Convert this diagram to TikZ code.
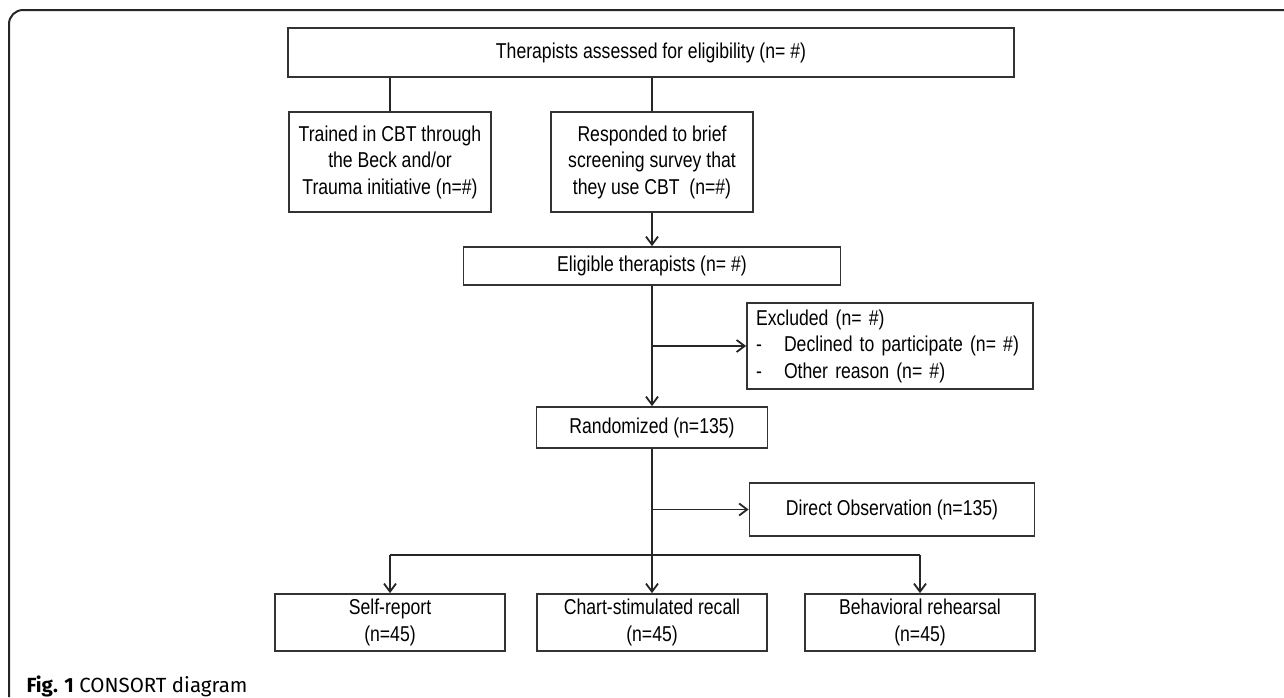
\documentclass[tikz,border=0pt]{standalone}
\usepackage{fontspec}
\setmainfont[FakeStretch=0.82]{Liberation Sans}
\newfontfamily\capfont{Fira Sans}
\usepackage{tikz}
\usetikzlibrary{arrows.meta}

\tikzset{
	box/.style={draw=black!80, line width=1.8pt, inner sep=0pt, align=center,
		font=\fontsize{21.5}{26.5}\selectfont},
	link/.style={draw=black!85, line width=1.8pt},
	>={Straight Barb[length=8pt,width=12pt]}
}

\begin{document}
\begin{tikzpicture}[x=1pt,y=-1pt]

		%%Location
		\useasboundingbox (0,0) rectangle (1284,697);
		\draw[line width=2pt, black!85, rounded corners=14pt] (9,697) -- (9,10) -- (1284,10);

		%%Screening
		\node[box, minimum width=726pt, minimum height=49pt] (assessed) at (651,52.5) {Therapists assessed for eligibility (n= \#)};
		\node[box, minimum width=202pt, minimum height=100pt] (trained) at (390,162) {Trained in CBT through\\the Beck and/or\\Trauma initiative (n=\#)};
		\node[box, minimum width=202pt, minimum height=100pt] (responded) at (652,162) {Responded to brief\\screening survey that\\they use CBT~~(n=\#)};
		\node[box, minimum width=377pt, minimum height=38pt] (eligible) at (652,266) {Eligible therapists (n= \#)};
		\node[box, minimum width=286pt, minimum height=86pt, text width=268pt, align=left] (excluded) at (890,346) {Excluded (n= \#)\\\makebox[28pt][l]{-}Declined to participate (n= \#)\\\makebox[28pt][l]{-}Other reason (n= \#)};

		%%Randomization
		\node[box, minimum width=231pt, minimum height=41pt] (randomized) at (652,427.5) {Randomized (n=135)};
		\node[box, minimum width=285pt, minimum height=53pt] (direct) at (892,509.5) {Direct Observation (n=135)};

		%%Arms
		\node[box, minimum width=230pt, minimum height=57pt] (selfrep) at (390,622.5) {Self-report\\(n=45)};
		\node[box, minimum width=230pt, minimum height=57pt] (chart) at (652,622.5) {Chart-stimulated recall\\(n=45)};
		\node[box, minimum width=230pt, minimum height=57pt] (rehearsal) at (920,622.5) {Behavioral rehearsal\\(n=45)};

		%%Lines
		\draw[link] (trained.north) -- (trained.north |- assessed.south);
		\draw[link] (responded.north) -- (responded.north |- assessed.south);
		\draw[link,->] (responded.south) -- (eligible.north);
		\draw[link,->] (eligible.south) -- (randomized.north);
		\coordinate (exbranch) at (eligible.south |- excluded.west);
		\draw[link,->] (exbranch) -- (excluded.west);
		\draw[link,->] (randomized.south) -- (chart.north);
		\coordinate (obsbranch) at (randomized.south |- direct.west);
		\draw[link,->] (obsbranch) -- (direct.west);
		\coordinate (barl) at ([yshift=38pt]selfrep.north);
		\coordinate (barr) at ([yshift=38pt]rehearsal.north);
		\draw[link] (barl) -- (barr);
		\draw[link,->] (barl) -- (selfrep.north);
		\draw[link,->] (barr) -- (rehearsal.north);

		%%Caption
		\node[anchor=base west, font=\capfont\fontsize{20.5}{20.5}\selectfont] (caption) at (23,692) {\textbf{Fig. 1} CONSORT diagram};
\end{tikzpicture}
\end{document}
